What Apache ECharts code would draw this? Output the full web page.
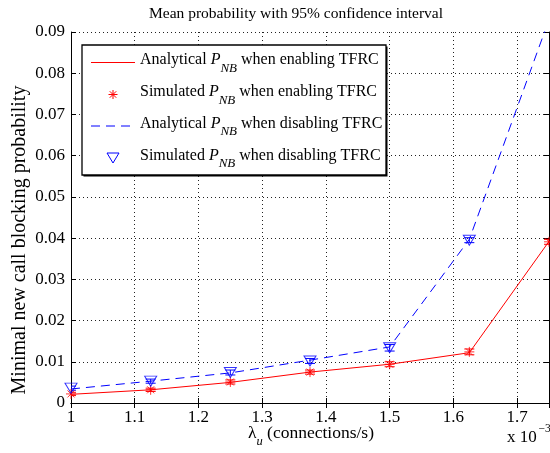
<!DOCTYPE html>
<html>
<head>
<meta charset="utf-8">
<script src="https://cdn.jsdelivr.net/npm/echarts@6/dist/echarts.min.js"></script>
<style>html,body{margin:0;padding:0;background:#fff}#c{width:550px;height:453px}</style>
</head>
<body>
<div id="c"></div>
<script>
// x values in units of 10^-3 connections/s
const lambdaX = [1, 1.125, 1.25, 1.375, 1.5, 1.625, 1.75];
const anaEnable = [0.0021, 0.0032, 0.0050, 0.0075, 0.0094, 0.0122, 0.0392];
const simEnable = [0.0022, 0.0032, 0.0051, 0.0075, 0.0094, 0.0124, 0.0391];
const simEnableErr = [0.0004, 0.0004, 0.0005, 0.0005, 0.0006, 0.0007, 0.0006];
const anaDisable = [0.0034, 0.0053, 0.0073, 0.0104, 0.0136, 0.0397, 0.0930];
const simDisable = [0.0036, 0.0053, 0.0074, 0.0102, 0.0134, 0.0395];
const simDisableErr = [0.0005, 0.0005, 0.0006, 0.0006, 0.0008, 0.0006];
const legendPrefix = ['Analytical ', 'Simulated ', 'Analytical ', 'Simulated '];
const legendSuffix = [' when enabling TFRC', ' when enabling TFRC', ' when disabling TFRC', ' when disabling TFRC'];
const titleText = 'Mean probability with 95% confidence interval';
const yTitle = 'Minimal new call blocking probability';

const FONT = '"Liberation Serif", "Times New Roman", serif';
const RED = '#ff0000', BLUE = '#0000ff';
const asterisk = 'path://M0 5 L10 5 M5 0 L5 10 M1.5 1.5 L8.5 8.5 M8.5 1.5 L1.5 8.5';

function pairs(xs, ys) { return ys.map((y, i) => [xs[i], y]); }
function errData(xs, ys, es) { return ys.map((y, i) => [xs[i], y - es[i], y + es[i]]); }

function errRender(color) {
  return function (params, api) {
    const lo = api.coord([api.value(0), api.value(1)]);
    const hi = api.coord([api.value(0), api.value(2)]);
    const w = 5;
    const st = { stroke: color, lineWidth: 1 };
    return {
      type: 'group',
      children: [
        { type: 'line', shape: { x1: lo[0], y1: lo[1], x2: hi[0], y2: hi[1] }, style: st },
        { type: 'line', shape: { x1: lo[0] - w, y1: lo[1], x2: lo[0] + w, y2: lo[1] }, style: st },
        { type: 'line', shape: { x1: hi[0] - w, y1: hi[1], x2: hi[0] + w, y2: hi[1] }, style: st }
      ]
    };
  };
}

const chart = echarts.init(document.getElementById('c'), null, { renderer: 'canvas' });

const axisCommon = {
  axisLine: { show: true, lineStyle: { color: '#000', width: 1 } },
  axisTick: { show: true, inside: true, length: 5, lineStyle: { color: '#000' } }
};

// ---------- legend drawn as graphic ----------
const LG = { x: 82, y: 45, w: 304, h: 130 };
const rowY = [60, 92, 123.5, 155.5];
const iconX0 = 91, iconX1 = 135, iconCx = 113, iconDy = 2.5;
const legendRich = {
  a: { fontFamily: FONT, fontSize: 16, fill: '#000', lineHeight: 18 },
  p: { fontFamily: FONT, fontSize: 16, fontStyle: 'italic', fill: '#000', lineHeight: 18 },
  s: { fontFamily: FONT, fontSize: 13, fontStyle: 'italic', fill: '#000', lineHeight: 30, verticalAlign: 'bottom' }
};
function asteriskShape(cx, cy, r, color) {
  const d = r * 0.72;
  const st = { stroke: color, lineWidth: 1 };
  return [
    { type: 'line', shape: { x1: cx - r, y1: cy, x2: cx + r, y2: cy }, style: st, z: 101 },
    { type: 'line', shape: { x1: cx, y1: cy - r, x2: cx, y2: cy + r }, style: st, z: 101 },
    { type: 'line', shape: { x1: cx - d, y1: cy - d, x2: cx + d, y2: cy + d }, style: st, z: 101 },
    { type: 'line', shape: { x1: cx + d, y1: cy - d, x2: cx - d, y2: cy + d }, style: st, z: 101 }
  ];
}
const legendGraphics = [
  { type: 'rect', shape: { x: LG.x + 1.5, y: LG.y + 1.5, width: LG.w, height: LG.h }, style: { fill: '#000' }, z: 99 },
  { type: 'rect', shape: { x: LG.x, y: LG.y, width: LG.w, height: LG.h }, style: { fill: '#fff', stroke: '#000', lineWidth: 1.3 }, z: 100 },
  { type: 'line', shape: { x1: iconX0, y1: rowY[0] + iconDy, x2: iconX1, y2: rowY[0] + iconDy }, style: { stroke: RED, lineWidth: 1 }, z: 101 },
  ...asteriskShape(iconCx, rowY[1] + iconDy, 4.5, RED),
  { type: 'line', shape: { x1: iconX0, y1: rowY[2] + iconDy, x2: iconX1, y2: rowY[2] + iconDy }, style: { stroke: BLUE, lineWidth: 1, lineDash: [9, 6] }, z: 101 },
  { type: 'polygon', shape: { points: [[iconCx - 6, rowY[3] + iconDy - 5], [iconCx + 6, rowY[3] + iconDy - 5], [iconCx, rowY[3] + iconDy + 5]] }, style: { fill: 'none', stroke: BLUE, lineWidth: 1 }, z: 101 }
];
for (let i = 0; i < 4; i++) {
  legendGraphics.push({
    type: 'text', x: 140, y: rowY[i], z: 101,
    style: {
      text: '{a|' + legendPrefix[i] + '}{p|P}{s|NB}{a|' + legendSuffix[i] + '}',
      rich: legendRich, verticalAlign: 'middle', align: 'left'
    }
  });
}

chart.setOption({
  animation: false,
  backgroundColor: '#fff',
  textStyle: { fontFamily: FONT, color: '#000' },
  grid: { left: 71, right: 1, top: 32, bottom: 50, containLabel: false, outerBoundsMode: 'none' },
  xAxis: [
    Object.assign({
      type: 'value', min: 1, max: 1.75, interval: 0.1,
      axisLabel: {
        fontFamily: FONT, fontSize: 17, color: '#000', margin: 6, hideOverlap: false,
        formatter: v => (Math.abs(v - 1.75) < 1e-9 ? '' : String(+v.toFixed(2)))
      },
      splitLine: { show: true, lineStyle: { color: '#222', type: [1, 3], width: 1 } }
    }, axisCommon),
    Object.assign({
      type: 'value', min: 1, max: 1.75, interval: 0.1, position: 'top',
      axisLabel: { show: false }, splitLine: { show: false }
    }, axisCommon)
  ],
  yAxis: [
    Object.assign({
      type: 'value', min: 0, max: 0.09, interval: 0.01,
      axisLabel: { fontFamily: FONT, fontSize: 17, color: '#000', margin: 6, hideOverlap: false },
      splitLine: { show: true, lineStyle: { color: '#222', type: [1, 3], width: 1 } }
    }, axisCommon),
    Object.assign({
      type: 'value', min: 0, max: 0.09, interval: 0.01, position: 'right',
      axisLabel: { show: false }, splitLine: { show: false }
    }, axisCommon)
  ],
  graphic: [
    { type: 'text', x: 296, y: 14, z: 50, style: { text: titleText, font: '15.5px ' + FONT, fill: '#000', align: 'center', verticalAlign: 'middle' } },
    { type: 'text', x: 20, y: 240, rotation: Math.PI / 2, z: 50, style: { text: yTitle, font: '20px ' + FONT, fill: '#000', align: 'center', verticalAlign: 'middle' } },
    {
      type: 'text', x: 311, y: 433, z: 50,
      style: {
        text: '{l|λ}{u|u}{n| (connections/s)}', align: 'center', verticalAlign: 'middle',
        rich: {
          l: { fontFamily: FONT, fontSize: 17.5, fill: '#000', lineHeight: 18 },
          u: { fontFamily: FONT, fontSize: 12.5, fontStyle: 'italic', fill: '#000', lineHeight: 30, verticalAlign: 'bottom' },
          n: { fontFamily: FONT, fontSize: 17.5, fill: '#000', lineHeight: 18 }
        }
      }
    },
    { type: 'text', x: 507, y: 438, z: 50, style: { text: 'x 10', font: '17px ' + FONT, fill: '#000', verticalAlign: 'middle' } },
    { type: 'text', x: 538.5, y: 429, z: 50, style: { text: '−3', font: '11.5px ' + FONT, fill: '#000', verticalAlign: 'middle' } },
    ...legendGraphics
  ],
  series: [
    {
      name: 'anaEnable', type: 'line', data: pairs(lambdaX, anaEnable),
      symbol: 'none', lineStyle: { color: RED, width: 1 }, itemStyle: { color: RED }, z: 3
    },
    {
      name: 'simEnable', type: 'scatter', data: pairs(lambdaX, simEnable),
      symbol: asterisk, symbolSize: 10,
      itemStyle: { color: 'rgba(0,0,0,0)', borderColor: RED, borderWidth: 1 }, z: 4
    },
    {
      name: 'errEnable', type: 'custom', data: errData(lambdaX, simEnable, simEnableErr),
      renderItem: errRender(RED), clip: true, z: 4
    },
    {
      name: 'anaDisable', type: 'line', data: pairs(lambdaX, anaDisable),
      symbol: 'none', lineStyle: { color: BLUE, width: 1, type: [9, 6] }, itemStyle: { color: BLUE }, z: 3
    },
    {
      name: 'simDisable', type: 'scatter', data: pairs(lambdaX, simDisable),
      symbol: 'triangle', symbolRotate: 180, symbolSize: [12, 10],
      itemStyle: { color: 'rgba(0,0,0,0)', borderColor: BLUE, borderWidth: 1 }, z: 4
    },
    {
      name: 'errDisable', type: 'custom', data: errData(lambdaX, simDisable, simDisableErr),
      renderItem: errRender(BLUE), clip: true, z: 4
    }
  ]
});
</script>
</body>
</html>
